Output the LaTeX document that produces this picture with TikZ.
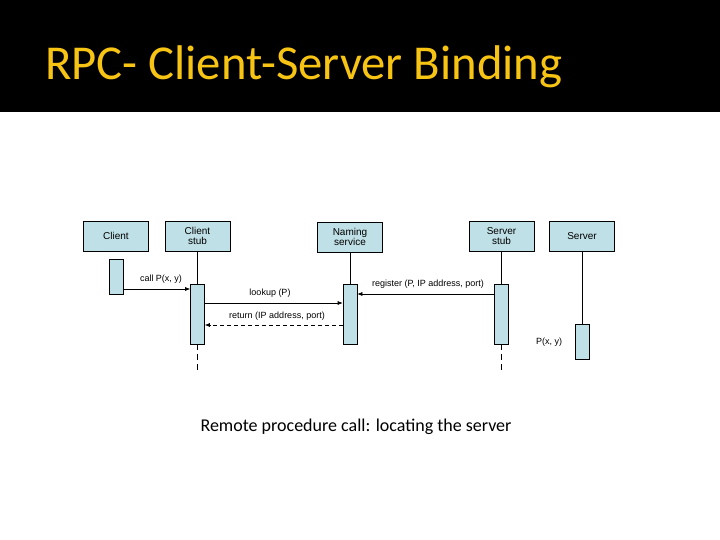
\documentclass[tikz,border=0pt]{standalone}
\usepackage{fontspec}
\setmainfont{Liberation Sans}
\newfontfamily\titlefont{Carlito}
\usetikzlibrary{arrows.meta}
\definecolor{boxblue}{RGB}{191,224,230}
\definecolor{titleyellow}{RGB}{248,196,20}
\tikzset{
  obj/.style={draw=black, line width=0.6pt, fill=boxblue, minimum width=65pt, minimum height=30pt, inner sep=0pt, align=center, font=\fontsize{10}{10.5}\selectfont},
  act/.style={draw=black, line width=0.6pt, fill=boxblue, minimum width=14pt, inner sep=0pt},
  life/.style={line width=0.7pt},
  lifedash/.style={line width=0.7pt, dash pattern=on 6pt off 4pt},
  msg/.style={line width=0.6pt, -{Latex[length=5pt,width=4pt]}},
  ret/.style={line width=0.6pt, dash pattern=on 4pt off 3pt, -{Latex[length=5pt,width=4pt]}},
  lbl/.style={font=\fontsize{9}{9}\selectfont, inner sep=1pt}
}
\begin{document}
\begin{tikzpicture}[x=1pt,y=-1pt]
\useasboundingbox (0,0) rectangle (720,540);
\fill[white] (0,0) rectangle (720,540);
\fill[black] (0,0) rectangle (720,112);
\node[anchor=base west, text=titleyellow, inner sep=0pt, font=\titlefont\fontsize{48.7}{48.7}\selectfont] (title) at (45,80) {RPC- Client-Server Binding};

% objects
\node[obj] (client) at (116,236) {Client};
\node[obj] (cstub) at (197.5,236) {Client\\stub};
\node[obj] (naming) at (350,237) {Naming\\service};
\node[obj] (sstub) at (501.5,236) {Server\\stub};
\node[obj] (server) at (582,236) {Server};

% activation bars
\node[act, minimum height=35pt] (aclient) at (116.5,276.5) {};
\node[act, minimum height=60pt] (acstub) at (197.5,314) {};
\node[act, minimum height=60pt] (anaming) at (350,314) {};
\node[act, minimum height=60pt] (asstub) at (501.5,314) {};
\node[act, minimum height=35pt] (aserver) at (582,341.5) {};

% lifelines
\draw[life] (cstub.south) -- (acstub.north);
\draw[life] (naming.south) -- (anaming.north);
\draw[life] (sstub.south) -- (asstub.north);
\draw[life] (server.south) -- (aserver.north);
\coordinate (cend) at (197.5,370);
\coordinate (send) at (501.5,370);
\draw[lifedash] (acstub.south) -- (cend);
\draw[lifedash] (asstub.south) -- (send);

% messages
\draw[msg] (aclient.east |- 0,289) -- (acstub.west |- 0,289);
\node[lbl] (lcall) at (161,279) {call P(x, y)};
\draw[msg] (acstub.east |- 0,303) -- (anaming.west |- 0,303);
\node[lbl] (llookup) at (270,293) {lookup (P)};
\draw[msg] (asstub.west |- 0,294) -- (anaming.east |- 0,294);
\node[lbl] (lreg) at (428,284) {register (P, IP address, port)};
\draw[ret] (anaming.west |- 0,325) -- (acstub.east |- 0,325);
\node[lbl] (lret) at (277,316) {return (IP address, port)};
\node[lbl] (lp) at (549,342) {P(x, y)};

% caption
\node[font=\titlefont\fontsize{18}{18}\selectfont] (caption) at (356,427) {Remote procedure call: locating the server};
\end{tikzpicture}
\end{document}
